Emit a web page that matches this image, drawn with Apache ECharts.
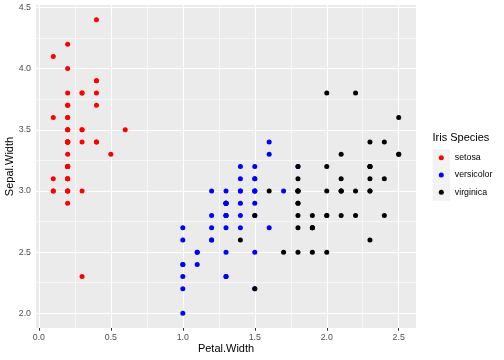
<!DOCTYPE html>
<html><head><meta charset="utf-8">
<script src="https://cdn.jsdelivr.net/npm/echarts@6/dist/echarts.min.js"></script>
<style>html,body{margin:0;padding:0;background:#fff}#c{width:504px;height:360px}</style>
</head><body><div id="c"></div>
<script>
const speciesNames = ['setosa', 'versicolor', 'virginica'];
const speciesColors = ['#FF0000', '#0000FF', '#000000'];

const setosaPetalWidth = [0.2,0.2,0.2,0.2,0.2,0.4,0.3,0.2,0.2,0.1,0.2,0.2,0.1,0.1,0.2,0.4,0.4,0.3,0.3,0.3,0.2,0.4,0.2,0.5,0.2,0.2,0.4,0.2,0.2,0.2,0.2,0.4,0.1,0.2,0.2,0.2,0.2,0.1,0.2,0.2,0.3,0.3,0.2,0.6,0.4,0.3,0.2,0.2,0.2,0.2];
const setosaSepalWidth = [3.5,3.0,3.2,3.1,3.6,3.9,3.4,3.4,2.9,3.1,3.7,3.4,3.0,3.0,4.0,4.4,3.9,3.5,3.8,3.8,3.4,3.7,3.6,3.3,3.4,3.0,3.4,3.5,3.4,3.2,3.1,3.4,4.1,4.2,3.1,3.2,3.5,3.6,3.0,3.4,3.5,2.3,3.2,3.5,3.8,3.0,3.8,3.2,3.7,3.3];

const versicolorPetalWidth = [1.4,1.5,1.5,1.3,1.5,1.3,1.6,1.0,1.3,1.4,1.0,1.5,1.0,1.4,1.3,1.4,1.5,1.0,1.5,1.1,1.8,1.3,1.5,1.2,1.3,1.4,1.4,1.7,1.5,1.0,1.1,1.0,1.2,1.6,1.5,1.6,1.5,1.3,1.3,1.3,1.2,1.4,1.2,1.0,1.3,1.2,1.3,1.3,1.1,1.3];
const versicolorSepalWidth = [3.2,3.2,3.1,2.3,2.8,2.8,3.3,2.4,2.9,2.7,2.0,3.0,2.2,2.9,2.9,3.1,3.0,2.7,2.2,2.5,3.2,2.8,2.5,2.8,2.9,3.0,2.8,3.0,2.9,2.6,2.4,2.4,2.7,2.7,3.0,3.4,3.1,2.3,3.0,2.5,2.6,3.0,2.6,2.3,2.7,3.0,2.9,2.9,2.5,2.8];

const virginicaPetalWidth = [2.5,1.9,2.1,1.8,2.2,2.1,1.7,1.8,1.8,2.5,2.0,1.9,2.1,2.0,2.4,2.3,1.8,2.2,2.3,1.5,2.3,2.0,2.0,1.8,2.1,1.8,1.8,1.8,2.1,1.6,1.9,2.0,2.2,1.5,1.4,2.3,2.4,1.8,1.8,2.1,2.4,2.3,1.9,2.3,2.5,2.3,1.9,2.0,2.3,1.8];
const virginicaSepalWidth = [3.3,2.7,3.0,2.9,3.0,3.0,2.5,2.9,2.5,3.6,3.2,2.7,3.0,2.5,2.8,3.2,3.0,3.8,2.6,2.2,3.2,2.8,2.8,2.7,3.3,3.2,2.8,3.0,2.8,3.0,2.8,3.8,2.8,2.8,2.6,3.0,3.4,3.1,3.0,3.1,3.1,3.1,2.7,3.2,3.3,3.0,2.5,3.0,3.4,3.0];

const xTicks = [0, 0.5, 1.0, 1.5, 2.0, 2.5];
const yTicks = [2.0, 2.5, 3.0, 3.5, 4.0, 4.5];
const xMinor = [0.25, 0.75, 1.25, 1.75, 2.25];
const yMinor = [2.25, 2.75, 3.25, 3.75, 4.25];

const xAll = setosaPetalWidth.concat(versicolorPetalWidth, virginicaPetalWidth);
const yAll = setosaSepalWidth.concat(versicolorSepalWidth, virginicaSepalWidth);
function expand(arr) {
  const lo = Math.min.apply(null, arr), hi = Math.max.apply(null, arr);
  const pad = (hi - lo) * 0.05;
  return [lo - pad, hi + pad];
}
const xRange = expand(xAll), yRange = expand(yAll);

function pairs(xs, ys) { return xs.map((x, i) => [x, ys[i]]); }
const seriesData = [
  pairs(setosaPetalWidth, setosaSepalWidth),
  pairs(versicolorPetalWidth, versicolorSepalWidth),
  pairs(virginicaPetalWidth, virginicaSepalWidth)
];

const FONT = '"Liberation Sans", Arial, Helvetica, sans-serif';

const gridLines = [];
xTicks.forEach(v => gridLines.push({xAxis: v, lineStyle: {width: 1.1}}));
yTicks.forEach(v => gridLines.push({yAxis: v, lineStyle: {width: 1.1}}));
xMinor.forEach(v => gridLines.push({xAxis: v, lineStyle: {width: 0.55}}));
yMinor.forEach(v => gridLines.push({yAxis: v, lineStyle: {width: 0.55}}));

const chart = echarts.init(document.getElementById('c'), null, {renderer: 'canvas'});
const option = {
  animation: false,
  backgroundColor: '#FFFFFF',
  grid: {
    left: 36, right: 88, top: 5, bottom: 32,
    show: true, backgroundColor: '#EBEBEB', borderWidth: 0,
    containLabel: false, outerBoundsMode: 'none'
  },
  title: {
    text: 'Iris Species', left: 432.5, top: 132,
    textStyle: {fontFamily: FONT, fontSize: 11, fontWeight: 'normal', color: '#000000'},
    padding: 0
  },
  legend: [
    {
      data: speciesNames, orient: 'vertical', left: 432.7, top: 149,
      icon: 'rect', itemWidth: 17.3, itemHeight: 17.3, itemGap: 0, padding: 0,
      itemStyle: {color: '#F2F2F2', borderWidth: 0},
      formatter: () => '', selectedMode: false, z: 3
    },
    {
      data: speciesNames, orient: 'vertical', left: 438.8, top: 149,
      icon: 'circle', itemWidth: 5, itemHeight: 5, itemGap: 0, padding: 0,
      textStyle: {fontFamily: FONT, fontSize: 8.8, color: '#000000', lineHeight: 17.3, height: 17.3,
        padding: [0, 0, 0, 6]},
      z: 4
    }
  ],
  xAxis: {
    type: 'value', min: xRange[0], max: xRange[1],
    name: 'Petal.Width', nameLocation: 'middle', nameGap: 15, nameMoveOverlap: false,
    nameTextStyle: {fontFamily: FONT, fontSize: 11, color: '#000000'},
    axisLine: {show: false},
    axisTick: {show: true, length: 2.75, lineStyle: {color: '#333333', width: 1}, customValues: xTicks},
    axisLabel: {customValues: xTicks, fontFamily: FONT, fontSize: 8.8, color: '#4D4D4D', margin: 5,
      formatter: v => v.toFixed(1)},
    splitLine: {show: false}
  },
  yAxis: {
    type: 'value', min: yRange[0], max: yRange[1],
    name: 'Sepal.Width', nameLocation: 'middle', nameGap: 21, nameRotate: 90, nameMoveOverlap: false,
    nameTextStyle: {fontFamily: FONT, fontSize: 11, color: '#000000'},
    axisLine: {show: false},
    axisTick: {show: true, length: 2.75, lineStyle: {color: '#333333', width: 1}, customValues: yTicks},
    axisLabel: {customValues: yTicks, fontFamily: FONT, fontSize: 8.8, color: '#4D4D4D', margin: 5,
      formatter: v => v.toFixed(1)},
    splitLine: {show: false}
  },
  series: speciesNames.map((n, i) => {
    const s = {
      type: 'scatter', name: n, data: seriesData[i], symbol: 'circle', symbolSize: 5,
      itemStyle: {color: speciesColors[i], opacity: 1}, z: 2 + i
    };
    if (i === 0) {
      s.markLine = {
        silent: true, symbol: 'none', z: 1, animation: false,
        label: {show: false}, emphasis: {disabled: true},
        lineStyle: {color: '#FFFFFF', type: 'solid'},
        data: gridLines
      };
    }
    return s;
  })
};
chart.setOption(option);
</script>
</body></html>
